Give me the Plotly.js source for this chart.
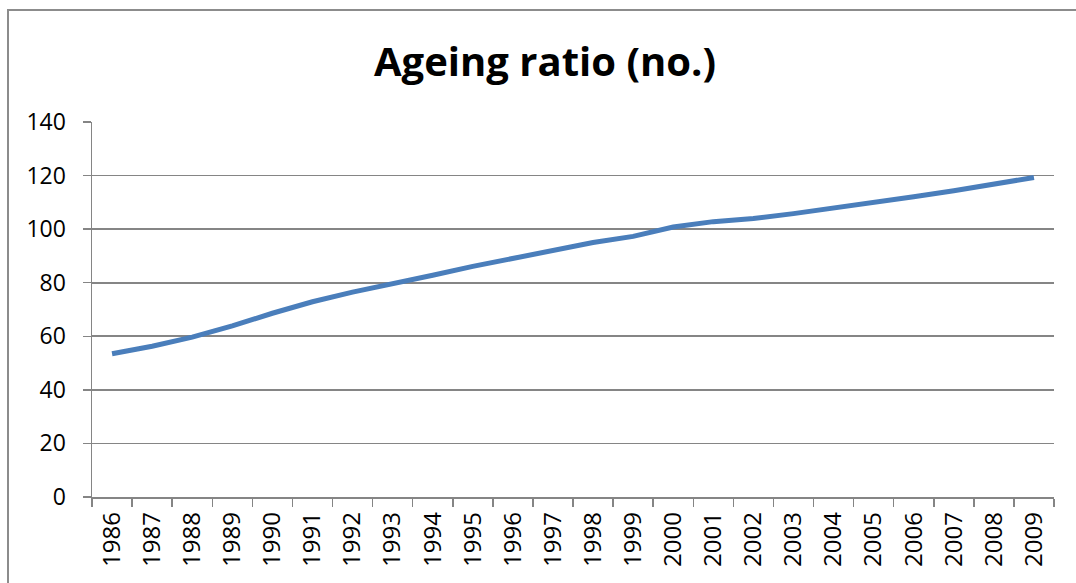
<!DOCTYPE html>
<html>
<head>
<meta charset="utf-8">
<script src="https://cdn.plot.ly/plotly-3.0.1.min.js"></script>
<style>
html,body{margin:0;padding:0;background:#fff;overflow:hidden;}
#wrap{position:relative;width:1076px;height:583px;overflow:hidden;}
#chart{width:1076px;height:583px;}
#frame{position:absolute;left:7px;top:9px;width:1200px;height:800px;border-left:2.5px solid #8c8c8c;border-top:2.5px solid #8c8c8c;pointer-events:none;background:transparent;}
</style>
</head>
<body>
<div id="wrap"><div id="chart"></div><div id="frame"></div></div>
<script>
var years = ["1986","1987","1988","1989","1990","1991","1992","1993","1994","1995","1996","1997","1998","1999","2000","2001","2002","2003","2004","2005","2006","2007","2008","2009"];
var ageingRatio = [53.5,56.3,59.7,63.9,68.6,72.9,76.5,79.5,82.8,86.1,89.1,92.4,95.0,97.3,100.8,102.8,104.0,105.8,107.8,109.9,112.1,114.3,116.9,119.3];
var yTicks = [0,20,40,60,80,100,120,140];

var trace = {
  x: years, y: ageingRatio, type: 'scatter', mode: 'lines',
  line: {color: '#4a7ebb', width: 5, shape: 'linear'},
  hoverinfo: 'x+y'
};
var gridGrey = '#858585';
var layout = {
  width: 1076, height: 583,
  margin: {l: 92, r: 22, t: 122, b: 86},
  paper_bgcolor: '#ffffff', plot_bgcolor: '#ffffff',
  showlegend: false,
  font: {family: '"Open Sans", "Liberation Sans", sans-serif', color: '#000000', size: 23},
  title: {
    text: '<b>Ageing ratio (no.)</b>',
    font: {family: '"Open Sans", "Liberation Sans", sans-serif', size: 40, color: '#000000'},
    xref: 'container', yref: 'container', x: 0.5065, y: 0.893, xanchor: 'center', yanchor: 'middle'
  },
  xaxis: {
    type: 'category',
    tickvals: years, ticktext: years,
    tickangle: -90,
    ticks: 'outside', ticklen: 8, tickwidth: 1.5, tickcolor: gridGrey,
    tickson: 'boundaries',
    showline: true, linecolor: gridGrey, linewidth: 1.5,
    showgrid: false, zeroline: false,
    ticklabelstandoff: 4,
    tickfont: {size: 24},
    range: [-0.5, 23.5],
    fixedrange: true
  },
  yaxis: {
    range: [0, 140],
    tickvals: yTicks, ticktext: yTicks.map(String),
    ticks: 'outside', ticklen: 8, tickwidth: 1.5, tickcolor: gridGrey,
    showline: true, linecolor: gridGrey, linewidth: 1.5,
    showgrid: true, gridcolor: gridGrey, gridwidth: 1.8,
    zeroline: false,
    ticklabelstandoff: 12,
    tickfont: {size: 23},
    fixedrange: true
  }
};
Plotly.newPlot('chart', [trace], layout, {displayModeBar: false, staticPlot: true});
</script>
</body>
</html>
